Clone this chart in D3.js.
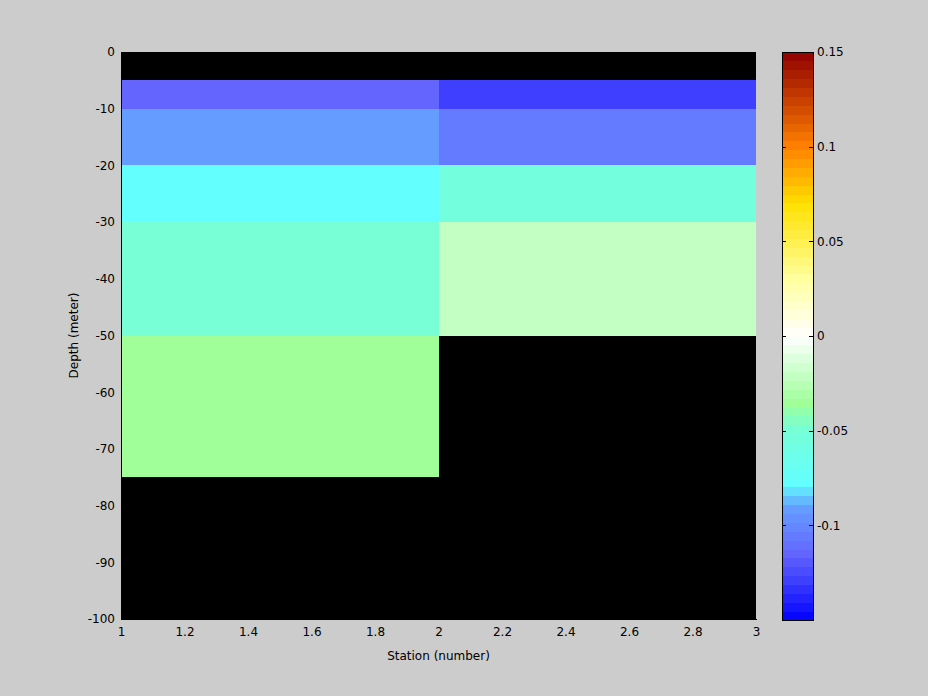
<!DOCTYPE html>
<html>
<head>
<meta charset="utf-8">
<script src="https://cdn.jsdelivr.net/npm/d3@7"></script>
<style>
  html, body { margin: 0; padding: 0; background: #cccccc; }
  svg { display: block; font-family: "DejaVu Sans", sans-serif; font-size: 12px; }
</style>
</head>
<body>
<svg id="chart" width="928" height="696"></svg>
<script>
// ---- Data ----
const stations = [1, 2, 3];                       // station grid edges
const depths = [0, -5, -10, -20, -30, -50, -75, -100]; // depth grid edges
// value per cell (station interval x depth interval); null = no data (NaN)
const station1Values = [null, -0.115, -0.09, -0.075, -0.05, -0.035, null];
const station2Values = [null, -0.13, -0.105, -0.055, -0.02, null, null];
const xTicks = [1, 1.2, 1.4, 1.6, 1.8, 2, 2.2, 2.4, 2.6, 2.8, 3];
const yTicks = [0, -10, -20, -30, -40, -50, -60, -70, -80, -90, -100];
const cbTicks = [0.15, 0.1, 0.05, 0, -0.05, -0.1];
const cbDomain = [-0.15, 0.15];
const nColors = 64;
// colormap control points
const cmapStops = [-0.15, -0.13, -0.115, -0.105, -0.09, -0.078, -0.055, -0.05, -0.035, -0.02, 0, 0.03, 0.07, 0.1, 0.15];
const cmapColors = ["#0000ff", "#3c3cff", "#6464ff", "#647cff", "#64a0ff", "#62ffff", "#72ffe0", "#76ffd8", "#a0ff98", "#c6ffc6", "#ffffff", "#ffffa0", "#ffe000", "#ff8000", "#900000"];

// ---- Layout ----
const svg = d3.select("#chart");
const plot = { left: 121, right: 756, top: 52, bottom: 619 };
const cb = { left: 782, right: 813, top: 52, bottom: 620 };
const fmt = d => d3.format("~g")(d).replace("\u2212", "-");

const x = d3.scaleLinear().domain([1, 3]).range([plot.left, plot.right]);
const y = d3.scaleLinear().domain([0, -100]).range([plot.top, plot.bottom]);
const cmap = d3.scaleLinear().domain(cmapStops).range(cmapColors).interpolate(d3.interpolateRgb).clamp(true);
const step = (cbDomain[1] - cbDomain[0]) / nColors;
const binColors = d3.range(nColors).map(i => cmap(cbDomain[0] + (i + 0.5) * step));
const quant = d3.scaleQuantize().domain(cbDomain).range(binColors);

// plot background (NaN colour)
svg.append("rect")
  .attr("x", plot.left).attr("y", plot.top)
  .attr("width", plot.right - plot.left).attr("height", plot.bottom - plot.top)
  .attr("fill", "#000");

// cells
const columns = [station1Values, station2Values];
const cells = [];
columns.forEach((vals, si) => {
  vals.forEach((v, di) => {
    cells.push({ x0: stations[si], x1: stations[si + 1], y0: depths[di], y1: depths[di + 1], v });
  });
});
svg.append("g").selectAll("rect").data(cells.filter(c => c.v !== null)).join("rect")
  .attr("x", d => x(d.x0))
  .attr("y", d => y(d.y0))
  .attr("width", d => x(d.x1) - x(d.x0))
  .attr("height", d => y(d.y1) - y(d.y0))
  .attr("fill", d => quant(d.v))
  .attr("shape-rendering", "crispEdges");

// axes
const xAxis = d3.axisBottom(x).tickValues(xTicks).tickFormat(fmt).tickSize(0).tickPadding(8);
const yAxis = d3.axisLeft(y).tickValues(yTicks).tickFormat(fmt).tickSize(0).tickPadding(6);
const gx = svg.append("g").attr("transform", `translate(0,${plot.bottom})`).call(xAxis);
const gy = svg.append("g").attr("transform", `translate(${plot.left},0)`).call(yAxis);
[gx, gy].forEach(g => {
  g.selectAll("text").attr("fill", "#000").style("font-family", "DejaVu Sans").style("font-size", "12px");
  g.select(".domain").attr("stroke", "#000").attr("shape-rendering", "crispEdges");
});

svg.append("text")
  .attr("x", (plot.left + plot.right) / 2).attr("y", 660)
  .attr("text-anchor", "middle").attr("fill", "#000")
  .text("Station (number)");
svg.append("text")
  .attr("transform", `translate(78,${(plot.top + plot.bottom) / 2}) rotate(-90)`)
  .attr("text-anchor", "middle").attr("fill", "#000")
  .text("Depth (meter)");

// colorbar
const cy = d3.scaleLinear().domain(cbDomain).range([cb.bottom, cb.top]);
svg.append("g").selectAll("rect").data(binColors).join("rect")
  .attr("x", cb.left)
  .attr("y", (d, i) => cy(cbDomain[0] + (i + 1) * step))
  .attr("width", cb.right - cb.left)
  .attr("height", (d, i) => cy(cbDomain[0] + i * step) - cy(cbDomain[0] + (i + 1) * step) + 0.5)
  .attr("fill", d => d)
  .attr("shape-rendering", "crispEdges");
svg.append("rect")
  .attr("x", cb.left).attr("y", cb.top)
  .attr("width", cb.right - cb.left).attr("height", cb.bottom - cb.top)
  .attr("fill", "none").attr("stroke", "#000").attr("shape-rendering", "crispEdges");
const cbAxis = d3.axisRight(cy).tickValues(cbTicks).tickFormat(fmt).tickSize(0).tickPadding(4);
const gcb = svg.append("g").attr("transform", `translate(${cb.right},0)`).call(cbAxis);
gcb.select(".domain").remove();
gcb.selectAll("text").attr("fill", "#000").style("font-family", "DejaVu Sans").style("font-size", "12px");
// inner tick marks on both sides
const tickG = svg.append("g").attr("stroke", "#000").attr("shape-rendering", "crispEdges");
tickG.selectAll("line.l").data(cbTicks.filter(t => t !== cbDomain[1])).join("line")
  .attr("x1", cb.left).attr("x2", cb.left + 4)
  .attr("y1", d => Math.round(cy(d)) + 0.5).attr("y2", d => Math.round(cy(d)) + 0.5);
tickG.selectAll("line.r").data(cbTicks.filter(t => t !== cbDomain[1])).join("line")
  .attr("x1", cb.right - 4).attr("x2", cb.right)
  .attr("y1", d => Math.round(cy(d)) + 0.5).attr("y2", d => Math.round(cy(d)) + 0.5);
</script>
</body>
</html>
